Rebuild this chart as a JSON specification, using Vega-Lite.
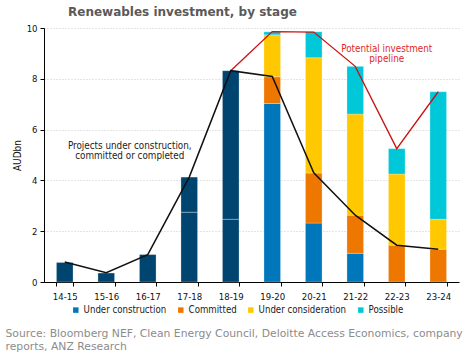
{
  "$schema": "https://vega.github.io/schema/vega-lite/v6.json",
  "autosize": "none",
  "padding": {"left": 44, "top": 28, "right": 8, "bottom": 72},
  "width": 415,
  "height": 254,
  "background": "white",
  "config": {"view": {"stroke": null}},
  "title": {
    "text": "Renewables investment, by stage",
    "anchor": "start",
    "frame": "group",
    "dx": 24,
    "offset": 4,
    "font": "DejaVu Sans",
    "fontSize": 12,
    "fontWeight": "bold",
    "color": "#5a5a5a"
  },
  "datasets": {
    "bars": [
      {"period": "14-15", "stage": "Completed", "value": 0.77},
      {"period": "15-16", "stage": "Completed", "value": 0.35},
      {"period": "16-17", "stage": "Completed", "value": 1.08},
      {"period": "17-18", "stage": "Completed", "value": 2.75},
      {"period": "17-18", "stage": "Completed", "value": 1.38},
      {"period": "18-19", "stage": "Completed", "value": 2.47},
      {"period": "18-19", "stage": "Completed", "value": 5.85},
      {"period": "19-20", "stage": "Under construction", "value": 7.03},
      {"period": "19-20", "stage": "Committed", "value": 1.05},
      {"period": "19-20", "stage": "Under consideration", "value": 1.65},
      {"period": "19-20", "stage": "Possible", "value": 0.12},
      {"period": "20-21", "stage": "Under construction", "value": 2.32},
      {"period": "20-21", "stage": "Committed", "value": 1.97},
      {"period": "20-21", "stage": "Under consideration", "value": 4.54},
      {"period": "20-21", "stage": "Possible", "value": 1.02},
      {"period": "21-22", "stage": "Under construction", "value": 1.13},
      {"period": "21-22", "stage": "Committed", "value": 1.5},
      {"period": "21-22", "stage": "Under consideration", "value": 3.98},
      {"period": "21-22", "stage": "Possible", "value": 1.88},
      {"period": "22-23", "stage": "Committed", "value": 1.45},
      {"period": "22-23", "stage": "Under consideration", "value": 2.8},
      {"period": "22-23", "stage": "Possible", "value": 1.0},
      {"period": "23-24", "stage": "Committed", "value": 1.29},
      {"period": "23-24", "stage": "Under consideration", "value": 1.18},
      {"period": "23-24", "stage": "Possible", "value": 5.02}
    ],
    "completed": [
      {"period": "14-15", "value": 0.79},
      {"period": "15-16", "value": 0.37},
      {"period": "16-17", "value": 1.08},
      {"period": "17-18", "value": 4.13},
      {"period": "18-19", "value": 8.32},
      {"period": "19-20", "value": 8.09},
      {"period": "20-21", "value": 4.3},
      {"period": "21-22", "value": 2.63},
      {"period": "22-23", "value": 1.45},
      {"period": "23-24", "value": 1.29}
    ],
    "pipeline": [
      {"period": "18-19", "value": 8.32},
      {"period": "19-20", "value": 9.86},
      {"period": "20-21", "value": 9.84},
      {"period": "21-22", "value": 8.49},
      {"period": "22-23", "value": 5.25},
      {"period": "23-24", "value": 7.49}
    ],
    "note1": [
      {"period": "16-17", "value": 5.36, "label": ["Projects under construction,", "committed or completed"]}
    ],
    "note2": [
      {"period": "22-23", "value": 9.17, "label": ["Potential investment", "pipeline"]}
    ]
  },
  "encoding": {
    "x": {
      "field": "period",
      "type": "ordinal",
      "scale": {"paddingInner": 0.6, "paddingOuter": 0.3},
      "axis": {
        "labelAngle": 0,
        "labelFont": "DejaVu Sans Condensed",
        "labelFontSize": 9.5,
        "labelColor": "#111111",
        "labelPadding": 5,
        "tickBand": "extent",
        "tickSize": 4,
        "tickColor": "#000000",
        "domainColor": "#000000",
        "grid": false,
        "title": ["Source: Bloomberg NEF, Clean Energy Council, Deloitte Access Economics, company", "reports, ANZ Research"],
        "titleFont": "DejaVu Sans",
        "titleFontSize": 10.8,
        "titleFontWeight": "normal",
        "titleColor": "#8c8c8c",
        "titleAnchor": "start",
        "titleAlign": "left",
        "titleBaseline": "top",
        "titleLineHeight": 13,
        "titleX": -39,
        "titleY": 45
      }
    }
  },
  "layer": [
    {
      "data": {"name": "bars"},
      "transform": [
        {"window": [{"op": "row_number", "as": "rowIndex"}]}
      ],
      "mark": {"type": "bar", "stroke": "#ffffff", "strokeOpacity": 0.35, "strokeWidth": 0.8},
      "encoding": {
        "y": {
          "field": "value",
          "type": "quantitative",
          "stack": "zero",
          "scale": {"domain": [0, 10], "nice": false},
          "axis": {
            "values": [0, 2, 4, 6, 8, 10],
            "labelFont": "DejaVu Sans Condensed",
            "labelFontSize": 9.5,
            "labelColor": "#111111",
            "labelPadding": 3,
            "tickSize": 4,
            "tickColor": "#000000",
            "domainColor": "#000000",
            "grid": true,
            "gridColor": "#c8c8c8",
            "gridDash": [1, 2],
            "title": "AUDbn",
            "titleFont": "DejaVu Sans Condensed",
            "titleFontSize": 10,
            "titleFontWeight": "normal",
            "titleColor": "#111111",
            "titlePadding": 4
          }
        },
        "color": {
          "field": "stage",
          "type": "nominal",
          "scale": {
            "domain": ["Completed", "Under construction", "Committed", "Under consideration", "Possible"],
            "range": ["#004470", "#0077bb", "#ee7700", "#ffc800", "#00c8d8"]
          },
          "legend": {
            "values": ["Under construction", "Committed", "Under consideration", "Possible"],
            "title": null,
            "orient": "none",
            "direction": "horizontal",
            "legendX": 27,
            "legendY": 277,
            "symbolType": "square",
            "symbolSize": 30,
            "symbolStrokeWidth": 0,
            "labelFont": "DejaVu Sans Condensed",
            "labelFontSize": 9.6,
            "labelColor": "#222222",
            "labelOffset": 3,
            "columnPadding": 9
          }
        },
        "order": {"field": "rowIndex", "type": "quantitative", "sort": "ascending"}
      }
    },
    {
      "data": {"name": "pipeline"},
      "mark": {"type": "line", "color": "#cc1111", "strokeWidth": 1.3},
      "encoding": {
        "y": {"field": "value", "type": "quantitative"}
      }
    },
    {
      "data": {"name": "completed"},
      "mark": {"type": "line", "color": "#111111", "strokeWidth": 1.5},
      "encoding": {
        "y": {"field": "value", "type": "quantitative"}
      }
    },
    {
      "data": {"name": "note1"},
      "mark": {"type": "text", "font": "DejaVu Sans Condensed", "fontSize": 9.8, "lineHeight": 10, "baseline": "middle", "align": "center", "dx": -18, "color": "#222222"},
      "encoding": {
        "y": {"field": "value", "type": "quantitative"},
        "text": {"field": "label"}
      }
    },
    {
      "data": {"name": "note2"},
      "mark": {"type": "text", "font": "DejaVu Sans Condensed", "fontSize": 9.8, "lineHeight": 10, "baseline": "middle", "align": "center", "dx": -10, "color": "#e02828"},
      "encoding": {
        "y": {"field": "value", "type": "quantitative"},
        "text": {"field": "label"}
      }
    }
  ]
}
